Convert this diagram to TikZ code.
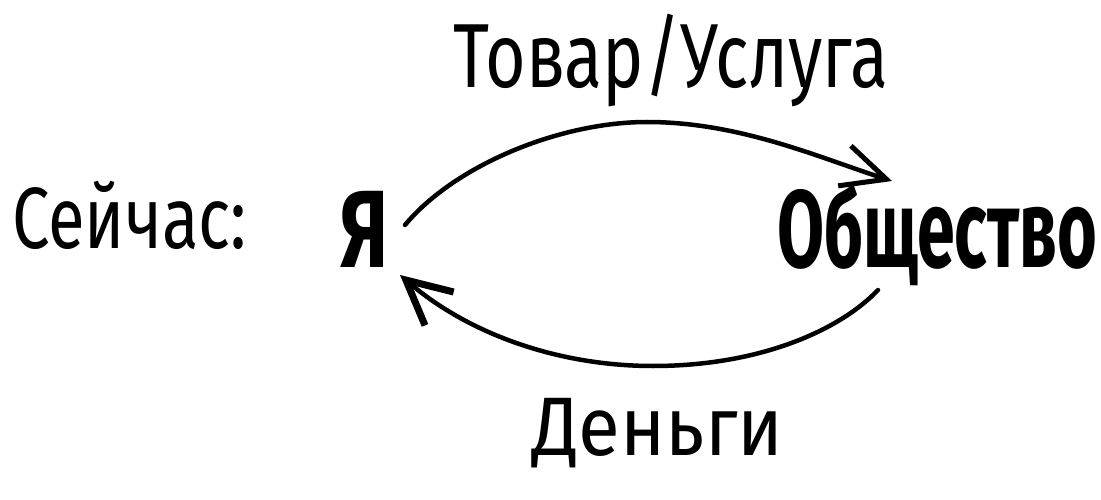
\documentclass[tikz,border=0pt]{standalone}
\usepackage{fontspec}
\setmainfont{Fira Sans}
\newfontfamily\boldhand{Fira Sans}[UprightFont=* Bold]
\usetikzlibrary{arrows.meta}
\tikzset{
  lbl/.style={inner sep=0pt, anchor=base west, text=black},
  flow/.style={line width=4.5pt, line cap=round},
  topflow/.style={flow, -{Straight Barb[length=44pt,width=42pt,line width=5pt]}},
  botflow/.style={flow, -{Straight Barb[length=44pt,width=44pt,line width=7pt]}},
}
\begin{document}
\begin{tikzpicture}[x=1pt,y=-1pt]
\useasboundingbox[fill=white] (0,0) rectangle (1101,500);
\node[lbl] (now) at (12,248) {\scalebox{0.77}[1]{\fontsize{87}{90}\selectfont Сейчас:}};
\node[lbl] (me) at (340,267) {\scalebox{0.72}[1]{\fontsize{110}{110}\boldhand Я}};
\node[lbl] (soc) at (777,267) {\scalebox{0.62}[1]{\fontsize{110}{110}\boldhand Общество}};
\node[lbl] (goods) at (453,88) {\scalebox{0.766}[1]{\fontsize{91}{91}\selectfont Товар/Услуга}};
\node[lbl] (money) at (532,455) {\scalebox{0.92}[1]{\fontsize{83}{83}\selectfont Деньги}};
\coordinate (s1) at (405,225);
\coordinate (e1) at (892,181);
\coordinate (s2) at (878,290);
\coordinate (e2) at (400,275);
\draw[topflow] (s1) .. controls (455,165) and (560,122) .. (647,122)
  .. controls (740,122) and (820,158) .. (e1);
\draw[botflow] (s2) .. controls (840,330) and (760,366) .. (653,366)
  .. controls (560,366) and (470,335) .. (e2);
\end{tikzpicture}
\end{document}
